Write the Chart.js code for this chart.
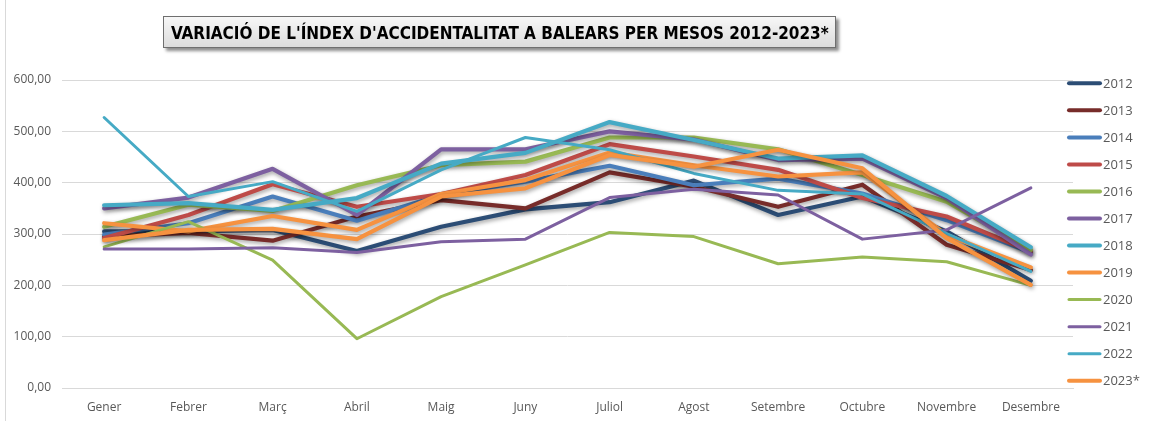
<!DOCTYPE html>
<html>
<head>
<meta charset="utf-8">
<script src="https://cdn.jsdelivr.net/npm/chart.js@4.4.0/dist/chart.umd.min.js"></script>
<style>
  body { margin: 0; background: #fff; }
  #wrap { position: relative; width: 1149px; height: 421px; overflow: hidden; }
  #frame { position: absolute; left: 5px; top: 0; width: 1px; height: 421px; background: #d9d9d9; }
  #title {
    position: absolute; left: 163px; top: 16px; width: 671px; height: 30px;
    border: 1px solid #6f6f6f;
    background: linear-gradient(#f7f7f7, #dcdcdc);
    box-shadow: 3px 3px 3px rgba(0,0,0,0.45);
    display: flex; justify-content: center; align-items: center;
    white-space: nowrap;
  }
  #title span {
    display: inline-block; flex: none; transform-origin: center center;
    font-family: "Liberation Sans Narrow", "DejaVu Sans Condensed", "Liberation Sans", sans-serif;
    font-weight: bold; font-size: 18px; color: #000;
  }
</style>
</head>
<body>
<div id="wrap">
  <canvas id="chart" width="1149" height="421"></canvas>
  <div id="frame"></div>
  <div id="title"><span id="titleText">VARIACIÓ DE L'ÍNDEX D'ACCIDENTALITAT A BALEARS PER MESOS 2012-2023*</span></div>
</div>
<script>
var months = ["Gener", "Febrer", "Març", "Abril", "Maig", "Juny", "Juliol", "Agost", "Setembre", "Octubre", "Novembre", "Desembre"];
var years = ["2012", "2013", "2014", "2015", "2016", "2017", "2018", "2019", "2020", "2021", "2022", "2023*"];

var y2012 = [305, 305, 308, 267, 314, 348, 362, 404, 337, 373, 305, 209];
var y2013 = [295, 302, 287, 334, 366, 350, 420, 392, 353, 396, 279, 230];
var y2014 = [299, 321, 373, 326, 376, 402, 433, 395, 408, 379, 327, 264];
var y2015 = [292, 337, 397, 353, 378, 415, 475, 451, 425, 370, 334, 266];
var y2016 = [314, 357, 345, 395, 434, 441, 488, 488, 465, 415, 363, 269];
var y2017 = [350, 371, 427, 337, 465, 465, 500, 484, 444, 447, 370, 260];
var y2018 = [356, 360, 347, 370, 437, 458, 518, 483, 447, 453, 374, 274];
var y2019 = [321, 305, 335, 308, 378, 405, 459, 434, 412, 420, 298, 235];
var y2020 = [275, 324, 249, 96, 178, 240, 303, 295, 242, 255, 246, 200];
var y2021 = [271, 271, 273, 264, 285, 290, 371, 387, 376, 290, 308, 390];
var y2022 = [527, 373, 402, 344, 425, 488, 464, 418, 385, 378, 301, 227];
var y2023 = [288, 308, 310, 290, 373, 389, 454, 431, 464, 428, 292, 201];

var yTicks = [0, 100, 200, 300, 400, 500, 600];

var seriesData = [y2012, y2013, y2014, y2015, y2016, y2017, y2018, y2019, y2020, y2021, y2022, y2023];
var colors = ["#2c4d75", "#772c2a", "#4a7ebb", "#be4b48", "#98b954", "#7d60a0",
              "#46aac5", "#f69240", "#98b954", "#7d60a0", "#46aac5", "#f69240"];
var thin = [false, false, false, false, false, false, false, false, true, true, true, false];

var datasets = seriesData.map(function (d, i) {
    return {
        label: years[i],
        data: d,
        borderColor: colors[i],
        backgroundColor: colors[i],
        borderWidth: thin[i] ? 3 : 4.2,
        borderCapStyle: 'round',
        borderJoinStyle: 'round',
        pointRadius: 0,
        pointHoverRadius: 0,
        tension: 0,
        fill: false,
        order: seriesData.length - 1 - i
    };
});

// soft shadow under the thick lines, like the original
var shadowPlugin = {
    id: 'shadow',
    beforeDatasetDraw: function (chart, args) {
        var ctx = chart.ctx;
        ctx.save();
        if (!thin[args.index]) {
            ctx.shadowColor = 'rgba(0,0,0,0.38)';
            ctx.shadowBlur = 4;
            ctx.shadowOffsetX = 1;
            ctx.shadowOffsetY = 2;
        }
    },
    afterDatasetDraw: function (chart) {
        chart.ctx.restore();
    }
};

// legend column on the right
var legendPlugin = {
    id: 'sideLegend',
    afterDraw: function (chart) {
        var ctx = chart.ctx;
        var area = chart.chartArea;
        ctx.save();
        chart.data.datasets.forEach(function (ds, i) {
            var y = area.top + 3.3 + i * 27.04;
            var x0 = area.right - 5;
            ctx.strokeStyle = ds.borderColor;
            ctx.lineWidth = thin[i] ? 3 : 4;
            ctx.lineCap = 'round';
            ctx.beginPath();
            ctx.moveTo(x0 + 1, y);
            ctx.lineTo(x0 + 32, y);
            ctx.stroke();
            ctx.fillStyle = '#595959';
            ctx.font = '13px "Open Sans"';
            ctx.textBaseline = 'middle';
            ctx.textAlign = 'left';
            ctx.fillText(ds.label, x0 + 35, y + 0.5);
        });
        ctx.restore();
    }
};

var ctx = document.getElementById('chart').getContext('2d');
var chart = new Chart(ctx, {
    type: 'line',
    data: { labels: months, datasets: datasets },
    plugins: [shadowPlugin, legendPlugin],
    options: {
        responsive: false,
        animation: false,
        devicePixelRatio: 1,
        layout: { padding: { left: 0, top: 80, right: 76, bottom: 0 } },
        plugins: {
            legend: { display: false },
            title: { display: false },
            tooltip: { enabled: false }
        },
        scales: {
            x: {
                offset: true,
                grid: { display: false, drawTicks: false },
                border: { display: true, color: '#d9d9d9', width: 1 },
                ticks: { color: '#595959', font: { family: 'Open Sans', size: 12 }, padding: 12, maxRotation: 0, autoSkip: false },
                afterFit: function (scale) { scale.height = 33; }
            },
            y: {
                min: 0,
                max: 600,
                afterBuildTicks: function (scale) {
                    scale.ticks = yTicks.map(function (v) { return { value: v }; });
                },
                grid: { color: '#d9d9d9', lineWidth: 1, drawTicks: false },
                border: { display: false },
                ticks: {
                    color: '#595959',
                    font: { family: 'Open Sans', size: 12 },
                    padding: 11,
                    callback: function (v) { return v.toFixed(2).replace('.', ','); }
                },
                afterFit: function (scale) { scale.width = 62; }
            }
        }
    }
});

// squeeze the title text into the box width
(function fitTitle() {
    var t = document.getElementById('titleText');
    var w = t.offsetWidth;
    var s = 658 / w;
    t.style.transform = 'scaleX(' + s.toFixed(3) + ')';
})();
</script>
</body>
</html>
